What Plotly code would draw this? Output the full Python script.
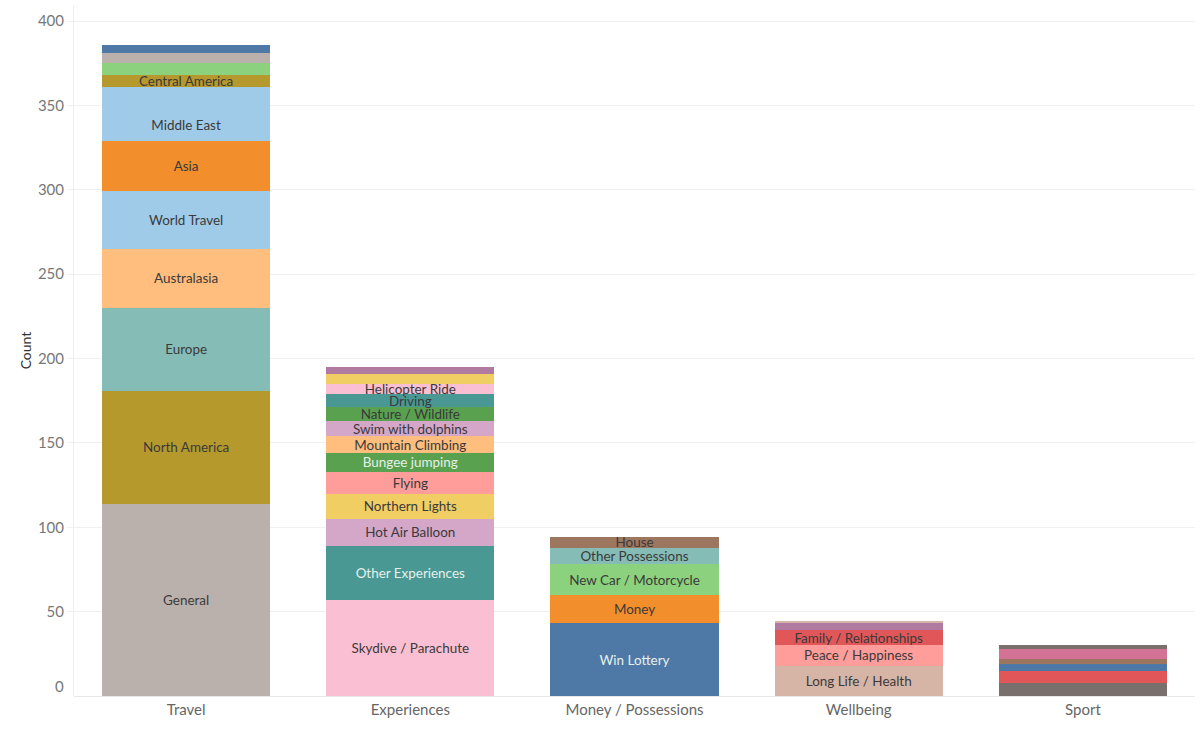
import plotly.graph_objects as go

categories = ["Travel", "Experiences", "Money / Possessions", "Wellbeing", "Sport"]

travel_subs = ["General", "North America", "Europe", "Australasia", "World Travel", "Asia",
               "Middle East", "Travel 8", "Central America", "Travel 10", "Travel 11", "Travel 12"]
travel_vals = [114, 67, 49, 35, 34, 30, 19, 13, 7, 7, 6, 5]
travel_show = [True, True, True, True, True, True, True, False, True, False, False, False]

exp_subs = ["Skydive / Parachute", "Other Experiences", "Hot Air Balloon", "Northern Lights", "Flying",
            "Bungee jumping", "Mountain Climbing", "Swim with dolphins", "Nature / Wildlife", "Driving",
            "Helicopter Ride", "Experiences 12", "Experiences 13"]
exp_vals = [57, 32, 16, 15, 13, 11, 10, 9, 8, 8, 6, 6, 4]
exp_show = [True] * 11 + [False, False]

money_subs = ["Win Lottery", "Money", "New Car / Motorcycle", "Other Possessions", "House"]
money_vals = [43, 17, 18, 10, 6]
money_show = [True] * 5

well_subs = ["Long Life / Health", "Peace / Happiness", "Family / Relationships", "Wellbeing 4", "Wellbeing 5"]
well_vals = [18, 12, 9, 4, 1.5]
well_show = [True, True, True, False, False]

sport_subs = ["Sport 1", "Sport 2", "Sport 3", "Sport 4", "Sport 5", "Sport 6"]
sport_vals = [8, 7, 4, 3, 6, 2]
sport_show = [False] * 6

y_ticks = [50, 100, 150, 200, 250, 300, 350, 400]

# styles
travel_colors = ["#BAB0AC", "#B6992D", "#86BCB6", "#FFBE7D", "#A0CBE8", "#F28E2B",
                 "#A0CBE8", "#A0CBE8", "#B6992D", "#8CD17D", "#BAB0AC", "#4E79A7"]
exp_colors = ["#FABFD2", "#499894", "#D4A6C8", "#F1CE63", "#FF9D9A", "#59A14F", "#FFBE7D",
              "#D4A6C8", "#59A14F", "#499894", "#FABFD2", "#F1CE63", "#B07AA1"]
money_colors = ["#4E79A7", "#F28E2B", "#8CD17D", "#86BCB6", "#9D7660"]
well_colors = ["#D7B5A6", "#FF9D9A", "#E15759", "#B07AA1", "#D7B5A6"]
sport_colors = ["#79706E", "#E15759", "#4E79A7", "#9D7660", "#D37295", "#79706E"]

light_text = {"Other Experiences", "Bungee jumping", "Win Lottery"}

groups = [
    (categories[0], travel_subs, travel_vals, travel_show, travel_colors),
    (categories[1], exp_subs, exp_vals, exp_show, exp_colors),
    (categories[2], money_subs, money_vals, money_show, money_colors),
    (categories[3], well_subs, well_vals, well_show, well_colors),
    (categories[4], sport_subs, sport_vals, sport_show, sport_colors),
]

FONT = "Lato"
fig = go.Figure()
for cat, subs, vals, show, cols in groups:
    for s, v, sh, c in zip(subs, vals, show, cols):
        fig.add_trace(go.Bar(
            x=[cat], y=[v], name=s,
            marker=dict(color=c, line=dict(width=0)),
            text=[s if sh else ""],
            textposition="inside",
            insidetextanchor="middle",
            textangle=0,
            textfont=dict(family=FONT, size=13.5,
                          color="#E6F0EA" if s in light_text else "#3a3a3a"),
            hovertemplate=s + ": %{y}<extra></extra>",
            showlegend=False,
        ))

fig.update_layout(
    barmode="stack",
    bargap=0.25,
    width=1200, height=743,
    margin=dict(l=74, r=5, t=5, b=47),
    plot_bgcolor="white", paper_bgcolor="white",
    font=dict(family=FONT, color="#666666"),
    uniformtext=dict(minsize=13, mode="show"),
    xaxis=dict(
        categoryorder="array", categoryarray=categories,
        tickfont=dict(size=15, color="#666666"),
        showgrid=False, showline=False, ticks="",
        ticklabelstandoff=3,
    ),
    yaxis=dict(
        range=[0, 409.5],
        tickvals=y_ticks,
        tickfont=dict(size=15, color="#777777"),
        gridcolor="#F0F0F0", gridwidth=1,
        zeroline=True, zerolinecolor="#E8E8E8", zerolinewidth=1,
        showline=True, linecolor="#F0F0F0", linewidth=1,
        ticks="outside", ticklen=6, tickcolor="#F0F0F0",
        title=dict(text="Count", font=dict(size=14, color="#333333"), standoff=2),
    ),
    annotations=[dict(text="0", x=0, xref="paper", y=0, yref="y", xanchor="right",
                      xshift=-8, yshift=10, showarrow=False,
                      font=dict(size=15, color="#777777", family=FONT))],
)

fig.write_html("out.html", config={"displayModeBar": False},
               post_script="document.body.style.margin='0';")
